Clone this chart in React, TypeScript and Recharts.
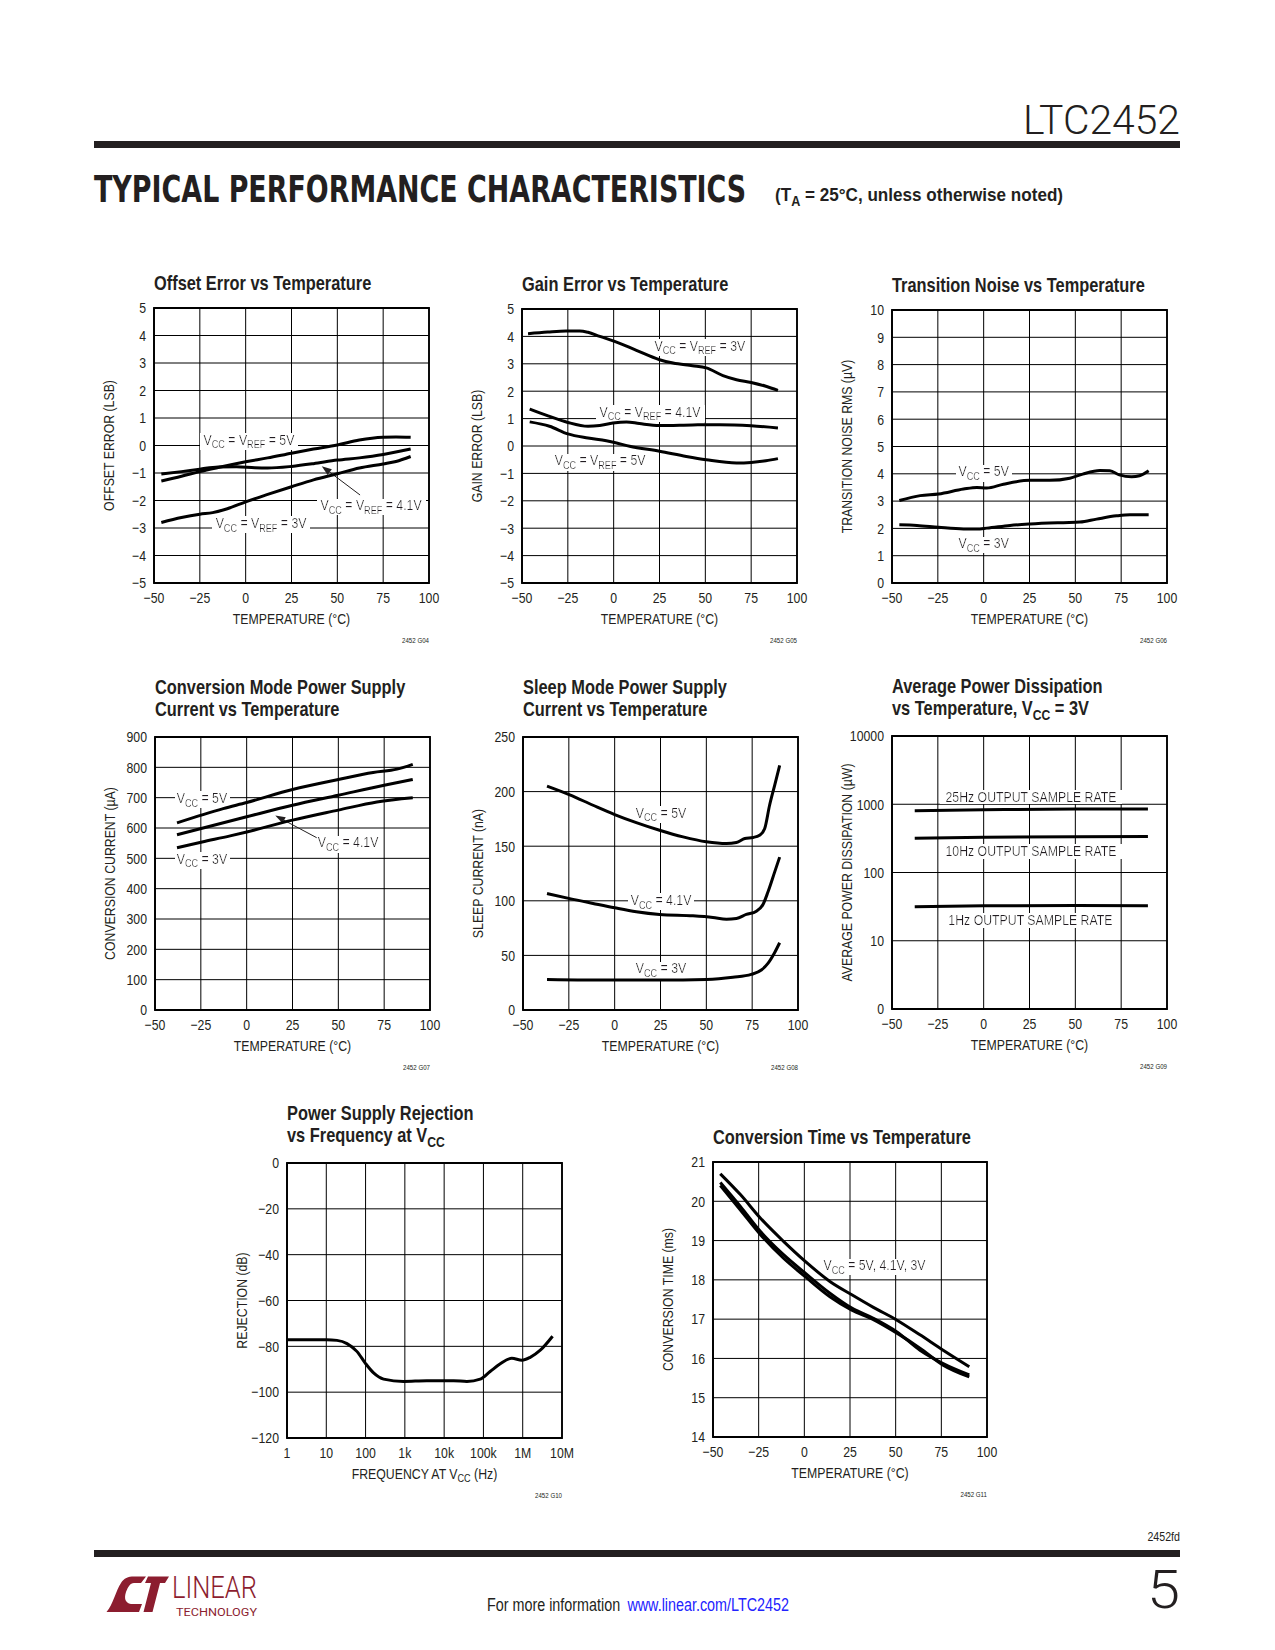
import React from 'react';
import { LineChart, Line, XAxis, YAxis, CartesianGrid, ReferenceDot, ReferenceLine, ReferenceArea } from 'recharts';

const FONT = "'Liberation Sans', Arial, Helvetica, sans-serif";
const SX = 0.82; // horizontal compression to mimic a condensed face
const INK = '#231f20';

// ---------- tick values ----------
const TEMP_TICKS = [-50, -25, 0, 25, 50, 75, 100];
const LSB_TICKS = [-5, -4, -3, -2, -1, 0, 1, 2, 3, 4, 5];
const NOISE_TICKS = [0, 1, 2, 3, 4, 5, 6, 7, 8, 9, 10];
const CUR_TICKS = [0, 100, 200, 300, 400, 500, 600, 700, 800, 900];
const SLEEP_TICKS = [0, 50, 100, 150, 200, 250];
const PWR_TICKS = [1, 10, 100, 1000, 10000];
const PSR_X_TICKS = [1, 10, 100, 1000, 10000, 100000, 1000000, 10000000];
const PSR_X_LABELS = ['1', '10', '100', '1k', '10k', '100k', '1M', '10M'];
const PSR_Y_TICKS = [-120, -100, -80, -60, -40, -20, 0];
const CT_TICKS = [14, 15, 16, 17, 18, 19, 20, 21];

// ---------- Offset error vs temperature ----------
const OFF_T_5V = [-46, -35, -25, -15, 0, 12, 25, 37, 50, 62, 75, 82, 90];
const OFF_5V = [-1.29, -1.12, -0.95, -0.8, -0.59, -0.45, -0.28, -0.13, 0.02, 0.2, 0.3, 0.31, 0.3];
const OFF_T_41V = [-46, -35, -25, -15, -5, 5, 12, 25, 37, 50, 62, 75, 90];
const OFF_41V = [-1.04, -0.95, -0.86, -0.78, -0.77, -0.81, -0.82, -0.76, -0.66, -0.53, -0.45, -0.33, -0.13];
const OFF_T_3V = [-46, -35, -25, -18, -10, 0, 12, 25, 37, 50, 62, 75, 82, 90];
const OFF_3V = [-2.8, -2.62, -2.5, -2.44, -2.3, -2.05, -1.78, -1.5, -1.25, -1.03, -0.82, -0.67, -0.58, -0.4];

// ---------- Gain error vs temperature ----------
const GAIN_T_3V = [-46.7, -36, -26, -18.5, -14, -7.6, 0.5, 12.4, 25, 32.4, 43, 50.5, 59.6, 67, 75, 83, 89.6];
const GAIN_3V = [4.1, 4.16, 4.2, 4.2, 4.15, 4.0, 3.82, 3.49, 3.15, 3.03, 2.93, 2.85, 2.57, 2.42, 2.32, 2.18, 2.03];
const GAIN_T_41V = [-45.8, -35.8, -25, -14, -7.6, -0.4, 7, 14, 25, 43, 57.8, 75, 89.6];
const GAIN_41V = [1.35, 1.1, 0.86, 0.72, 0.75, 0.84, 0.88, 0.82, 0.75, 0.77, 0.78, 0.74, 0.66];
const GAIN_T_5V = [-45.8, -35, -25, -14, -4, 1.6, 8.7, 25, 39.6, 50.5, 67, 75, 83, 89.6];
const GAIN_5V = [0.88, 0.72, 0.44, 0.29, 0.19, 0.11, -0.01, -0.19, -0.38, -0.5, -0.62, -0.6, -0.54, -0.46];

// ---------- Transition noise vs temperature ----------
const NOISE_T_5V = [-46, -34.6, -24.6, -11, -3.7, 1.7, 10.8, 25.3, 36, 47, 54, 63.4, 68.8, 74, 80.7, 85, 90];
const NOISE_5V = [3.02, 3.2, 3.26, 3.44, 3.5, 3.48, 3.62, 3.76, 3.76, 3.84, 3.99, 4.12, 4.11, 3.96, 3.89, 3.93, 4.11];
const NOISE_T_3V = [-46, -36.4, -24.6, -11, -3.7, 1.7, 14.4, 25.3, 43.4, 52.5, 61.6, 72.5, 79.8, 90];
const NOISE_3V = [2.13, 2.11, 2.04, 1.98, 1.98, 2.01, 2.11, 2.16, 2.21, 2.23, 2.34, 2.46, 2.5, 2.5];

// ---------- Conversion mode supply current ----------
const CUR_T_5V = [-38, -12.8, 0, 25, 50, 69, 82, 90.6];
const CUR_5V = [617, 664, 684, 727, 760, 783, 794, 810];
const CUR_T_41V = [-38, 0, 25, 50, 75, 90.6];
const CUR_41V = [578, 637, 675, 708, 741, 760];
const CUR_T_3V = [-38, -24.3, -9, 0, 25, 50, 71, 90.6];
const CUR_3V = [535, 554, 574, 587, 626, 659, 686, 700];

// ---------- Sleep mode supply current ----------
const SLP_T_5V = [-36.9, -24.5, -11.8, 0, 11.8, 24.5, 37.3, 50, 61, 66.4, 71, 75.5, 79, 81.8, 84.5, 87.3, 90];
const SLP_5V = [205, 197, 187.5, 179, 171.6, 164.6, 158.5, 154, 152.4, 153.4, 157, 158, 160, 166, 187.5, 206, 224];
const SLP_T_41V = [-36.9, -24.5, -11.8, 0, 11.8, 24.5, 42.7, 53.6, 61, 66.4, 71.8, 77.3, 80.9, 83.6, 87.3, 90];
const SLP_41V = [106.7, 102, 97.6, 93.6, 90, 87.5, 86.3, 84.8, 83.2, 83.8, 87.5, 90.5, 96.6, 108, 126.5, 140];
const SLP_T_3V = [-36.9, 0, 24.5, 50, 64.5, 74.5, 80, 83.6, 87.3, 90];
const SLP_3V = [28, 27.4, 27.4, 28, 30, 32.6, 36.6, 42.7, 52.7, 61.6];

// ---------- Average power dissipation ----------
const PWR_T = [-37.6, 0, 50, 89.6];
const PWR_25HZ = [805, 830, 850, 850];
const PWR_10HZ = [318, 328, 335, 336];
const PWR_1HZ = [31.5, 32.5, 32.8, 32.6];

// ---------- Power supply rejection ----------
const PSR_F = [1, 10, 18.7, 33.7, 60, 98, 160, 288, 930, 3600, 17400, 38000, 83000, 148000, 268000, 530000, 955000, 1550000, 2800000, 5760000];
const PSR_DB = [-77.1, -77.1, -77.4, -78.8, -82.2, -87.3, -91.6, -94.3, -95.3, -95, -95, -95.3, -94.3, -91, -87.6, -85.2, -86.1, -84.8, -81.7, -75.6];

// ---------- Conversion time ----------
const CT_T = [-46, -35, -24, -11.4, 0.5, 14, 26, 37.8, 50.5, 63.3, 76, 90.3];
const CT_5V = [20.7, 20.17, 19.57, 18.98, 18.47, 17.96, 17.62, 17.3, 16.98, 16.6, 16.21, 15.79];
const CT_41V = [20.48, 19.87, 19.23, 18.64, 18.17, 17.66, 17.28, 17.02, 16.68, 16.21, 15.87, 15.58];
const CT_3V = [20.4, 19.78, 19.15, 18.55, 18.08, 17.57, 17.23, 16.99, 16.65, 16.26, 15.83, 15.53];

// ---------- helpers ----------
type Sub = { s: string };
type Part = string | Sub;
const sub = (s: string): Sub => ({ s });
const zip = (t: number[], v: number[]) => t.map((x, i) => ({ x, y: v[i] }));
const fmtNum = (v: number) => (v < 0 ? '\u2212' + Math.abs(v) : String(v));
const fmtPwr = (v: number) => (v === 1 ? '0' : String(v));
const fmtFreq = (v: number) => PSR_X_LABELS[PSR_X_TICKS.indexOf(v)] ?? String(v);

function Rich({ parts, fs }: { parts: Part[]; fs: number }) {
  let inSub = false;
  const out = parts.map((p, i) => {
    const isSub = typeof p !== 'string';
    const txt = isSub ? (p as Sub).s : (p as string);
    let dy = 0;
    if (isSub && !inSub) dy = fs * 0.24;
    if (!isSub && inSub) dy = -fs * 0.24;
    inSub = isSub;
    return (
      <tspan key={i} dy={dy || undefined} fontSize={isSub ? fs * 0.74 : fs}>
        {txt}
      </tspan>
    );
  });
  return <>{out}</>;
}

interface CTextProps {
  x: number; y: number; fs: number; parts: Part[];
  anchor?: 'start' | 'middle' | 'end'; weight?: number; sx?: number; rotate?: number;
  fill?: string; filter?: string; family?: string; baseline?: string;
}
function CText({ x, y, fs, parts, anchor = 'start', weight = 400, sx = SX, rotate, fill = INK, filter, family = FONT, baseline }: CTextProps) {
  const tr = `translate(${x},${y})${rotate ? ` rotate(${rotate})` : ''} scale(${sx},1)`;
  return (
    <text transform={tr} textAnchor={anchor} fontFamily={family} fontSize={fs} fontWeight={weight} fill={fill} filter={filter} dominantBaseline={baseline as any}>
      <Rich parts={parts} fs={fs} />
    </text>
  );
}

const xTick = (fmt: (v: number) => string) => (p: any) => (
  <CText x={p.x} y={p.y + 12} fs={15} anchor="middle" parts={[fmt(p.payload.value)]} />
);
const yTick = (fmt: (v: number) => string) => (p: any) => (
  <CText x={p.x} y={p.y + 5.3} fs={15} anchor="end" parts={[fmt(p.payload.value)]} />
);

const labelShape = (parts: Part[], fs = 15) => (p: any) => (
  <CText x={p.cx} y={p.cy + fs * 0.36} fs={fs} anchor="middle" parts={parts} filter="url(#wbg)" />
);

const arrowShape = (p: any) => {
  const { x1, y1, x2, y2 } = p;
  if ([x1, y1, x2, y2].some((v) => typeof v !== 'number' || isNaN(v))) return <g />;
  const a = Math.atan2(y2 - y1, x2 - x1);
  const L = 10;
  const W = 3.5;
  const bx = x2 - L * Math.cos(a);
  const by = y2 - L * Math.sin(a);
  const nx = -Math.sin(a) * W;
  const ny = Math.cos(a) * W;
  return (
    <g>
      <line x1={x1} y1={y1} x2={bx} y2={by} stroke={INK} strokeWidth={1} />
      <polygon points={`${x2},${y2} ${bx + nx},${by + ny} ${bx - nx},${by - ny}`} fill={INK} />
    </g>
  );
};

interface Ann { x: number; y: number; parts: Part[] }
interface Arrow { x1: number; y1: number; x2: number; y2: number }
interface PanelCfg {
  px: number; py: number; pw: number; ph: number;
  title: Part[][]; yLabel: string; xLabel: Part[]; fig: string;
  xDomain: [number, number]; xTicks: number[]; xLog?: boolean; xFmt?: (v: number) => string;
  yDomain: [number, number]; yTicks: number[]; yLog?: boolean; yFmt?: (v: number) => string;
  series: { x: number; y: number }[][];
  labels: Ann[]; arrows: Arrow[];
}

const VV = (v: string): Part[] => ['V', sub('CC'), ' = V', sub('REF'), ' = ' + v];
const VC = (v: string): Part[] => ['V', sub('CC'), ' = ' + v];
const TEMP_LABEL: Part[] = ['TEMPERATURE (°C)'];

const PANELS: PanelCfg[] = [
  {
    px: 154, py: 308, pw: 275, ph: 275,
    title: [['Offset Error vs Temperature']], yLabel: 'OFFSET ERROR (LSB)', xLabel: TEMP_LABEL, fig: '2452 G04',
    xDomain: [-50, 100], xTicks: TEMP_TICKS, yDomain: [-5, 5], yTicks: LSB_TICKS,
    series: [zip(OFF_T_5V, OFF_5V), zip(OFF_T_41V, OFF_41V), zip(OFF_T_3V, OFF_3V)],
    labels: [
      { x: 1.8, y: 0.22, parts: VV('5V') },
      { x: 68.4, y: -2.16, parts: VV('4.1V') },
      { x: 8.4, y: -2.81, parts: VV('3V') },
    ],
    arrows: [{ x1: 62.4, y1: -1.8, x2: 41.5, y2: -0.75 }],
  },
  {
    px: 522, py: 309, pw: 275, ph: 274,
    title: [['Gain Error vs Temperature']], yLabel: 'GAIN ERROR (LSB)', xLabel: TEMP_LABEL, fig: '2452 G05',
    xDomain: [-50, 100], xTicks: TEMP_TICKS, yDomain: [-5, 5], yTicks: LSB_TICKS,
    series: [zip(GAIN_T_3V, GAIN_3V), zip(GAIN_T_41V, GAIN_41V), zip(GAIN_T_5V, GAIN_5V)],
    labels: [
      { x: 47, y: 3.68, parts: VV('3V') },
      { x: 19.8, y: 1.26, parts: VV('4.1V') },
      { x: -7.4, y: -0.51, parts: VV('5V') },
    ],
    arrows: [],
  },
  {
    px: 892, py: 310, pw: 275, ph: 273,
    title: [['Transition Noise vs Temperature']], yLabel: 'TRANSITION NOISE RMS (µV)', xLabel: TEMP_LABEL, fig: '2452 G06',
    xDomain: [-50, 100], xTicks: TEMP_TICKS, yDomain: [0, 10], yTicks: NOISE_TICKS,
    series: [zip(NOISE_T_5V, NOISE_5V), zip(NOISE_T_3V, NOISE_3V)],
    labels: [
      { x: 0, y: 4.1, parts: VC('5V') },
      { x: 0, y: 1.47, parts: VC('3V') },
    ],
    arrows: [],
  },
  {
    px: 155, py: 737, pw: 275, ph: 273,
    title: [['Conversion Mode Power Supply'], ['Current vs Temperature']], yLabel: 'CONVERSION CURRENT (µA)', xLabel: TEMP_LABEL, fig: '2452 G07',
    xDomain: [-50, 100], xTicks: TEMP_TICKS, yDomain: [0, 900], yTicks: CUR_TICKS,
    series: [zip(CUR_T_5V, CUR_5V), zip(CUR_T_41V, CUR_41V), zip(CUR_T_3V, CUR_3V)],
    labels: [
      { x: -24.4, y: 700, parts: VC('5V') },
      { x: -24.4, y: 500, parts: VC('3V') },
      { x: 55.3, y: 554, parts: VC('4.1V') },
    ],
    arrows: [{ x1: 38.2, y1: 568, x2: 15.6, y2: 641 }],
  },
  {
    px: 523, py: 737, pw: 275, ph: 273,
    title: [['Sleep Mode Power Supply'], ['Current vs Temperature']], yLabel: 'SLEEP CURRENT (nA)', xLabel: TEMP_LABEL, fig: '2452 G08',
    xDomain: [-50, 100], xTicks: TEMP_TICKS, yDomain: [0, 250], yTicks: SLEEP_TICKS,
    series: [zip(SLP_T_5V, SLP_5V), zip(SLP_T_41V, SLP_41V), zip(SLP_T_3V, SLP_3V)],
    labels: [
      { x: 25.3, y: 181, parts: VC('5V') },
      { x: 25.3, y: 101, parts: VC('4.1V') },
      { x: 25.3, y: 38.5, parts: VC('3V') },
    ],
    arrows: [],
  },
  {
    px: 892, py: 736, pw: 275, ph: 273,
    title: [['Average Power Dissipation'], ['vs Temperature, V', sub('CC'), ' = 3V']], yLabel: 'AVERAGE POWER DISSIPATION (µW)', xLabel: TEMP_LABEL, fig: '2452 G09',
    xDomain: [-50, 100], xTicks: TEMP_TICKS, yDomain: [1, 10000], yTicks: PWR_TICKS, yLog: true, yFmt: fmtPwr,
    series: [zip(PWR_T, PWR_25HZ), zip(PWR_T, PWR_10HZ), zip(PWR_T, PWR_1HZ)],
    labels: [
      { x: 25.8, y: 1312, parts: ['25Hz OUTPUT SAMPLE RATE'] },
      { x: 25.8, y: 210, parts: ['10Hz OUTPUT SAMPLE RATE'] },
      { x: 25.5, y: 20.3, parts: ['1Hz OUTPUT SAMPLE RATE'] },
    ],
    arrows: [],
  },
  {
    px: 287, py: 1163, pw: 275, ph: 275,
    title: [['Power Supply Rejection'], ['vs Frequency at V', sub('CC')]], yLabel: 'REJECTION (dB)', xLabel: ['FREQUENCY AT V', sub('CC'), ' (Hz)'], fig: '2452 G10',
    xDomain: [1, 10000000], xTicks: PSR_X_TICKS, xLog: true, xFmt: fmtFreq, yDomain: [-120, 0], yTicks: PSR_Y_TICKS,
    series: [zip(PSR_F, PSR_DB)],
    labels: [],
    arrows: [],
  },
  {
    px: 713, py: 1162, pw: 274, ph: 275,
    title: [['Conversion Time vs Temperature']], yLabel: 'CONVERSION TIME (ms)', xLabel: TEMP_LABEL, fig: '2452 G11',
    xDomain: [-50, 100], xTicks: TEMP_TICKS, yDomain: [14, 21], yTicks: CT_TICKS,
    series: [zip(CT_T, CT_5V), zip(CT_T, CT_41V), zip(CT_T, CT_3V)],
    labels: [{ x: 38.4, y: 18.38, parts: ['V', sub('CC'), ' = 5V, 4.1V, 3V'] }],
    arrows: [],
  },
];

const AXIS_LINE = { stroke: '#000', strokeWidth: 1.5 };
const ML = 70;
const MT = 10;
const MR = 25;
const XH = 50;

function PanelChart({ c }: { c: PanelCfg }) {
  const xf = c.xFmt || fmtNum;
  const yf = c.yFmt || fmtNum;
  return (
    <div style={{ position: 'absolute', left: c.px - ML, top: c.py - MT }}>
      <LineChart width={ML + c.pw + MR} height={MT + c.ph + XH} margin={{ top: MT, right: MR, bottom: 0, left: 0 }}>
        <CartesianGrid stroke="#000" strokeWidth={1} />
        <XAxis
          type="number" dataKey="x" domain={c.xDomain} ticks={c.xTicks} scale={c.xLog ? 'log' : 'linear'}
          allowDataOverflow interval={0} tickLine={false} axisLine={AXIS_LINE} tick={xTick(xf)} height={XH}
        />
        <YAxis
          type="number" dataKey="y" domain={c.yDomain} ticks={c.yTicks} scale={c.yLog ? 'log' : 'linear'}
          allowDataOverflow interval={0} tickLine={false} axisLine={AXIS_LINE} tick={yTick(yf)} width={ML}
        />
        <ReferenceArea x1={c.xDomain[0]} x2={c.xDomain[1]} y1={c.yDomain[0]} y2={c.yDomain[1]} fill="none" fillOpacity={0} stroke="#000" strokeWidth={1.8} ifOverflow="visible" />
        {c.labels.map((l, i) => (
          <ReferenceDot key={'l' + i} x={l.x} y={l.y} r={0} ifOverflow="visible" shape={labelShape(l.parts)} {...({ zIndex: 350 } as any)} />
        ))}
        {c.arrows.map((a, i) => (
          <ReferenceLine key={'a' + i} segment={[{ x: a.x1, y: a.y1 }, { x: a.x2, y: a.y2 }]} ifOverflow="visible" shape={arrowShape} />
        ))}
        {c.series.map((d, i) => (
          <Line key={i} data={d} dataKey="y" type="monotone" stroke="#000" strokeWidth={3} dot={false} activeDot={false} isAnimationActive={false} />
        ))}
      </LineChart>
    </div>
  );
}

function Overlay() {
  return (
    <svg width={1275} height={1650} style={{ position: 'absolute', left: 0, top: 0 }}>
      <defs>
        <filter id="wbg" x="-0.03" y="0.1" width="1.06" height="0.84">
          <feFlood floodColor="#ffffff" result="bg" />
          <feMerge>
            <feMergeNode in="bg" />
            <feMergeNode in="SourceGraphic" />
          </feMerge>
        </filter>
      </defs>
      {/* header */}
      <text x={1180} y={134} textAnchor="end" fontFamily="Roboto, sans-serif" fontWeight={300} fontSize={41} fill={INK} textLength={157} lengthAdjust="spacingAndGlyphs">LTC2452</text>
      <rect x={94} y={141} width={1086} height={7} fill={INK} />
      <text transform="translate(94,202) scale(1.012,1.42)" fontFamily="'DejaVu Sans', sans-serif" fontWeight={700} fontSize={26.6} fill={INK}>TYPICAL PERFORMANCE CHARACTERISTICS</text>
      <CText x={775} y={201} fs={19} sx={0.9} weight={700} parts={['(T', sub('A'), ' = 25°C, unless otherwise noted)']} />

      {PANELS.map((c, i) => {
        const n = c.title.length;
        const lastBase = c.py - (n > 1 ? 21 : 18);
        return (
          <g key={i}>
            {c.title.map((line, j) => (
              <CText key={j} x={c.px} y={lastBase - (n - 1 - j) * 22} fs={20} weight={700} parts={line} />
            ))}
            <CText x={c.px - 45} y={c.py + c.ph / 2} rotate={-90} fs={15} anchor="middle" baseline="central" parts={[c.yLabel]} />
            <CText x={c.px + c.pw / 2} y={c.py + c.ph + 40.5} fs={15} anchor="middle" parts={c.xLabel} />
            <CText x={c.px + c.pw} y={c.py + c.ph + 60} fs={7.5} anchor="end" parts={[c.fig]} />
          </g>
        );
      })}

      {/* footer */}
      <CText x={1180} y={1541} fs={13} anchor="end" parts={['2452fd']} />
      <rect x={94} y={1550} width={1086} height={7} fill={INK} />
      <g fill="#8c1d2f">
        <path d="M106.5 1612 C113 1605 116 1590 121 1583 C124 1578 128 1576.5 134 1576.5 L146 1576.5 L141 1583 L134 1583 C130 1583 128 1587 126 1592 C124 1598 125 1603 131 1604 L142 1604 L139 1612 Z" />
        <path d="M148 1576.5 L169 1576.5 L165 1583 L160 1583 L152.5 1612 L143.5 1612 L151 1583 L145 1583 Z" />
        <text x={172} y={1598} fontFamily="Roboto, sans-serif" fontWeight={300} fontSize={32} textLength={85} lengthAdjust="spacingAndGlyphs">LINEAR</text>
        <text x={176} y={1615.5} fontFamily="Roboto, sans-serif" fontWeight={400} fontSize={10} textLength={81} lengthAdjust="spacingAndGlyphs">TECHNOLOGY</text>
      </g>
      <CText x={487} y={1611} fs={17.5} parts={['For more information ']} />
      <CText x={789} y={1611} fs={17.5} anchor="end" fill="#2323ff" parts={['www.linear.com/LTC2452']} />
      <text x={1180} y={1608} textAnchor="end" fontFamily="Roboto, sans-serif" fontWeight={300} fontSize={54} fill={INK} textLength={33} lengthAdjust="spacingAndGlyphs">5</text>
    </svg>
  );
}

export default function App() {
  return (
    <div style={{ position: 'absolute', left: 0, top: 0, width: 1275, height: 1650, background: '#fff' }}>
      <Overlay />
      {PANELS.map((c, i) => (
        <PanelChart key={i} c={c} />
      ))}
    </div>
  );
}
